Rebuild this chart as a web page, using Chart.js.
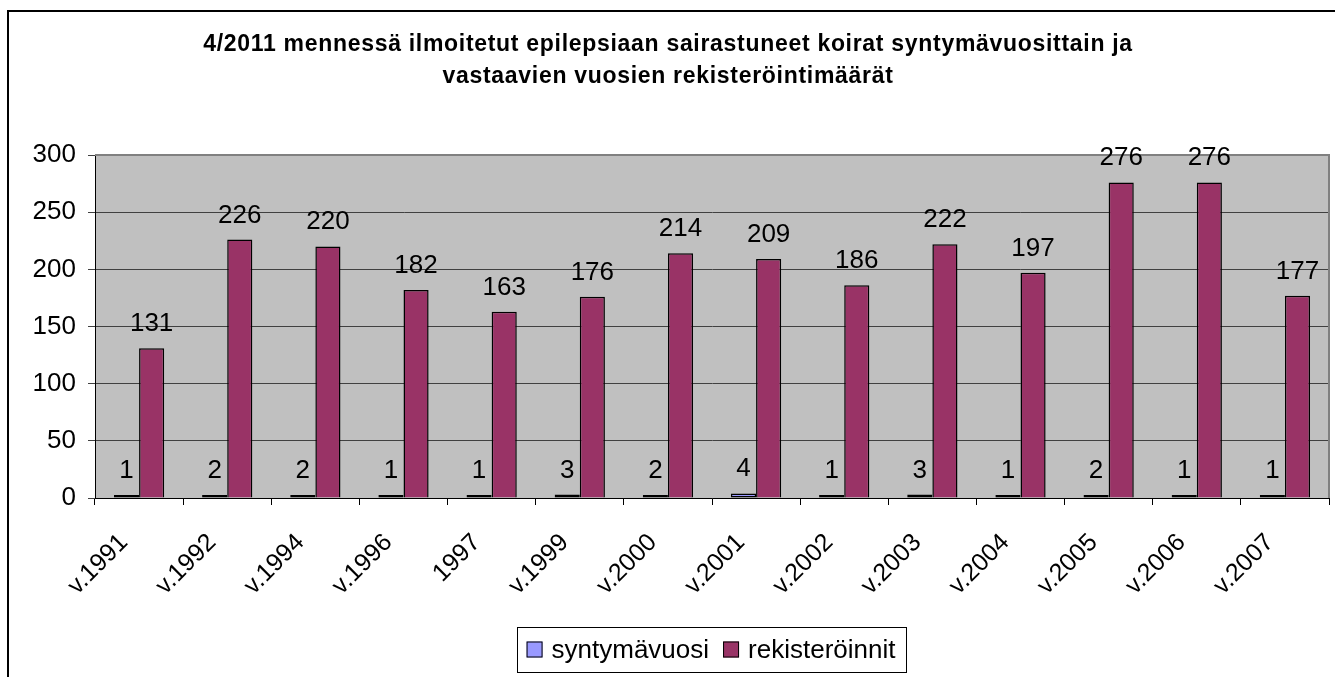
<!DOCTYPE html>
<html>
<head>
<meta charset="utf-8">
<script src="https://cdn.jsdelivr.net/npm/chart.js@4"></script>
<style>
  body { margin: 0; background: #fff; }
  #wrap { width: 1335px; height: 677px; position: relative; }
</style>
</head>
<body>
<div id="wrap"><canvas id="epiChart"></canvas></div>
<script>
const categories = ['v.1991', 'v.1992', 'v.1994', 'v.1996', '1997', 'v.1999', 'v.2000',
  'v.2001', 'v.2002', 'v.2003', 'v.2004', 'v.2005', 'v.2006', 'v.2007'];
const syntymavuosi = [1, 2, 2, 1, 1, 3, 2, 4, 1, 3, 1, 2, 1, 1];
const rekisteroinnit = [131, 226, 220, 182, 163, 176, 214, 209, 186, 222, 197, 276, 276, 177];
const yTicks = [0, 50, 100, 150, 200, 250, 300];
const titleLines = ['4/2011 mennessä ilmoitetut epilepsiaan sairastuneet koirat syntymävuosittain ja',
  'vastaavien vuosien rekisteröintimäärät'];

const FONT = '"Liberation Sans", Arial, sans-serif';
Chart.defaults.font.family = FONT;
Chart.defaults.color = '#000';

// harmaa piirtoalue + kehys
const plotArea = {
  id: 'plotArea',
  beforeDraw(chart) {
    const { ctx, chartArea: a } = chart;
    ctx.save();
    // koko kaavion reunus (vasen + ylä)
    ctx.strokeStyle = '#000';
    ctx.lineWidth = 2;
    ctx.beginPath();
    ctx.moveTo(8, 700);
    ctx.lineTo(8, 11);
    ctx.lineTo(1340, 11);
    ctx.stroke();
    ctx.fillStyle = '#C0C0C0';
    ctx.fillRect(a.left, a.top, a.right - a.left, a.bottom - a.top);
    ctx.restore();
  },
  beforeDatasetsDraw(chart) {
    const { ctx, chartArea: a } = chart;
    ctx.save();
    ctx.strokeStyle = '#808080';
    ctx.lineWidth = 2;
    ctx.beginPath();
    ctx.moveTo(a.left, a.top);
    ctx.lineTo(a.right, a.top);
    ctx.lineTo(a.right, a.bottom);
    ctx.stroke();
    ctx.restore();
  }
};

// otsikko kahdelle riville
const titleText = {
  id: 'titleText',
  afterDraw(chart) {
    const ctx = chart.ctx;
    ctx.save();
    ctx.font = 'bold 23px ' + FONT;
    if ('letterSpacing' in ctx) ctx.letterSpacing = '0.7px';
    ctx.fillStyle = '#000';
    ctx.textAlign = 'center';
    ctx.textBaseline = 'middle';
    titleLines.forEach((line, i) => ctx.fillText(line, 668, 45 + i * 32));
    ctx.restore();
  }
};

// arvot pylväiden päälle
const valueLabels = {
  id: 'valueLabels',
  afterDatasetsDraw(chart) {
    const ctx = chart.ctx;
    ctx.save();
    ctx.font = '26px ' + FONT;
    ctx.fillStyle = '#000';
    ctx.textAlign = 'center';
    ctx.textBaseline = 'alphabetic';
    chart.data.datasets.forEach((ds, i) => {
      chart.getDatasetMeta(i).data.forEach((bar, j) => {
        ctx.fillText(ds.data[j], bar.x, bar.y - 17);
      });
    });
    ctx.restore();
  }
};

// selite laatikossa
const boxLegend = {
  id: 'boxLegend',
  afterDraw(chart) {
    const ctx = chart.ctx;
    ctx.save();
    ctx.font = '26px ' + FONT;
    const sq = 16, gap = 9, itemGap = 14, pad = 10;
    const items = chart.data.datasets.map(ds => ({ label: ds.label, color: ds.backgroundColor, w: ctx.measureText(ds.label).width }));
    let total = pad * 2 - itemGap;
    items.forEach(it => { total += sq + gap + it.w + itemGap; });
    const cx = 711, top = 627, h = 45;
    let x = cx - total / 2;
    ctx.strokeStyle = '#000';
    ctx.lineWidth = 1;
    ctx.strokeRect(Math.round(x) + 0.5, top + 0.5, Math.round(total), h);
    x += pad;
    const mid = top + h / 2;
    items.forEach(it => {
      ctx.fillStyle = it.color;
      ctx.fillRect(x, mid - sq / 2, sq, sq);
      ctx.strokeRect(x + 0.5, mid - sq / 2 + 0.5, sq - 1, sq - 1);
      x += sq + gap;
      ctx.fillStyle = '#000';
      ctx.textBaseline = 'middle';
      ctx.fillText(it.label, x, mid + 1);
      x += it.w + itemGap;
    });
    ctx.restore();
  }
};

const ctx = document.querySelector('#epiChart').getContext('2d');
new Chart(ctx, {
  type: 'bar',
  data: {
    labels: categories,
    datasets: [{
      label: 'syntymävuosi',
      data: syntymavuosi,
      backgroundColor: '#9999FF',
      borderColor: '#000',
      borderWidth: 1.5,
      borderSkipped: false,
      minBarLength: 3,
      categoryPercentage: 0.57,
      barPercentage: 1
    }, {
      label: 'rekisteröinnit',
      data: rekisteroinnit,
      backgroundColor: '#993366',
      borderColor: '#000',
      borderWidth: 1.5,
      categoryPercentage: 0.57,
      barPercentage: 1
    }]
  },
  options: {
    responsive: true,
    maintainAspectRatio: false,
    animation: false,
    layout: { padding: { left: 0, right: 6, top: 155, bottom: 0 } },
    plugins: {
      legend: { display: false },
      tooltip: { enabled: false },
      title: { display: false }
    },
    scales: {
      x: {
        afterFit(scale) { scale.height = 179; },
        grid: { display: true, drawOnChartArea: false, drawTicks: true, tickLength: 7, color: '#000', offset: true },
        border: { display: true, color: '#000', width: 1 },
        ticks: { font: { size: 25 }, color: '#000', minRotation: 45, maxRotation: 45, padding: 23, labelOffset: -15, autoSkip: false }
      },
      y: {
        min: 0,
        max: 300,
        afterFit(scale) { scale.width = 95; },
        afterBuildTicks(scale) { scale.ticks = yTicks.map(v => ({ value: v })); },
        grid: { color: '#404040', tickLength: 7, lineWidth: 1 },
        border: { display: true, color: '#000', width: 1 },
        ticks: { font: { size: 26 }, color: '#000', padding: 12 }
      }
    }
  },
  plugins: [plotArea, titleText, valueLabels, boxLegend]
});
</script>
</body>
</html>
